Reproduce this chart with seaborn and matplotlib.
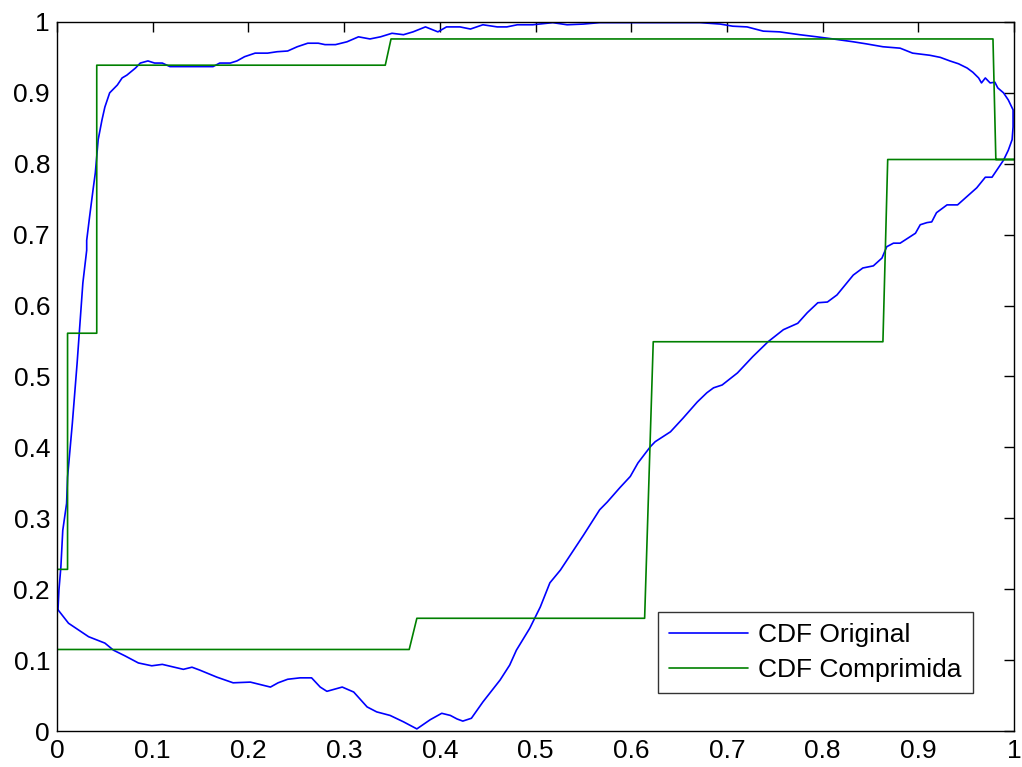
import numpy as np
import pandas as pd
import matplotlib
matplotlib.use("Agg")
import matplotlib.pyplot as plt
import seaborn as sns

# CDF original: closed path, lower branch left->right then upper branch right->left
orig_x = [0.001, 0.012, 0.033, 0.05, 0.059, 0.071, 0.085, 0.099, 0.11, 0.132, 0.141, 0.149,
          0.167, 0.184, 0.202, 0.223, 0.231, 0.241, 0.254, 0.266, 0.275, 0.282, 0.298, 0.31,
          0.324, 0.334, 0.348, 0.362, 0.376, 0.39, 0.402, 0.411, 0.418, 0.424, 0.433, 0.445,
          0.463, 0.473, 0.48, 0.494, 0.505, 0.515, 0.526, 0.55, 0.567, 0.575, 0.588, 0.599,
          0.607, 0.62, 0.625, 0.641, 0.654, 0.669, 0.679, 0.686, 0.695, 0.711, 0.727, 0.743,
          0.759, 0.774, 0.784, 0.795, 0.805, 0.815, 0.832, 0.842, 0.853, 0.862, 0.867, 0.874,
          0.881, 0.897, 0.902, 0.909, 0.914, 0.919, 0.93, 0.941, 0.961, 0.97, 0.977, 0.982,
          0.989, 0.994, 0.998, 0.999, 0.999, 0.994, 0.989, 0.983, 0.98, 0.975, 0.97, 0.966,
          0.963, 0.957, 0.951, 0.942, 0.933, 0.923, 0.912, 0.894, 0.881, 0.863, 0.846, 0.832,
          0.811, 0.794, 0.776, 0.755, 0.738, 0.721, 0.706, 0.693, 0.672, 0.567, 0.55, 0.533,
          0.518, 0.497, 0.481, 0.47, 0.46, 0.445, 0.432, 0.421, 0.407, 0.398, 0.385, 0.372,
          0.362, 0.35, 0.338, 0.327, 0.315, 0.303, 0.291, 0.28, 0.273, 0.262, 0.251, 0.241,
          0.23, 0.22, 0.207, 0.196, 0.188, 0.181, 0.17, 0.163, 0.118, 0.11, 0.102, 0.095,
          0.087, 0.082, 0.073, 0.068, 0.063, 0.055, 0.05, 0.047, 0.043, 0.04, 0.038, 0.034,
          0.031, 0.031, 0.027, 0.024, 0.021, 0.016, 0.011, 0.01, 0.006, 0.004, 0.002, 0.001]
orig_y = [0.171, 0.152, 0.133, 0.124, 0.114, 0.106, 0.096, 0.092, 0.094, 0.087, 0.09, 0.086,
          0.076, 0.068, 0.069, 0.062, 0.068, 0.073, 0.075, 0.075, 0.062, 0.056, 0.062, 0.055,
          0.034, 0.027, 0.022, 0.013, 0.003, 0.016, 0.025, 0.022, 0.017, 0.014, 0.018, 0.041,
          0.072, 0.093, 0.114, 0.145, 0.175, 0.209, 0.227, 0.276, 0.312, 0.323, 0.343, 0.359,
          0.378, 0.401, 0.408, 0.422, 0.441, 0.464, 0.477, 0.484, 0.488, 0.505, 0.528, 0.549,
          0.566, 0.575, 0.59, 0.604, 0.605, 0.615, 0.643, 0.653, 0.656, 0.667, 0.683, 0.688,
          0.688, 0.702, 0.714, 0.717, 0.718, 0.731, 0.742, 0.742, 0.766, 0.781, 0.781, 0.791,
          0.805, 0.819, 0.834, 0.852, 0.876, 0.89, 0.9, 0.907, 0.915, 0.914, 0.921, 0.914,
          0.921, 0.929, 0.935, 0.941, 0.945, 0.95, 0.953, 0.956, 0.963, 0.965, 0.969, 0.972,
          0.976, 0.979, 0.982, 0.986, 0.987, 0.993, 0.994, 0.997, 0.999, 0.999, 0.997, 0.996,
          0.999, 0.996, 0.996, 0.993, 0.993, 0.996, 0.99, 0.993, 0.993, 0.986, 0.993, 0.986,
          0.982, 0.984, 0.979, 0.976, 0.979, 0.972, 0.968, 0.968, 0.97, 0.97, 0.965, 0.959,
          0.958, 0.956, 0.956, 0.951, 0.945, 0.942, 0.942, 0.937, 0.937, 0.942, 0.942, 0.945,
          0.942, 0.935, 0.925, 0.921, 0.911, 0.9, 0.88, 0.862, 0.834, 0.787, 0.767, 0.725,
          0.692, 0.678, 0.632, 0.575, 0.519, 0.434, 0.358, 0.321, 0.283, 0.231, 0.199, 0.171]

# CDF comprimida: step path, same ordering
comp_x = [0.0, 0.368, 0.376, 0.614, 0.623, 0.863, 0.868, 1.0,
          0.981, 0.978, 0.349, 0.343, 0.0415, 0.0415, 0.011, 0.011, 0.0, 0.0]
comp_y = [0.115, 0.115, 0.159, 0.159, 0.549, 0.549, 0.806, 0.806,
          0.806, 0.976, 0.976, 0.939, 0.939, 0.561, 0.561, 0.228, 0.228, 0.115]

labels = ["CDF Original", "CDF Comprimida"]
ticks = [0, 0.1, 0.2, 0.3, 0.4, 0.5, 0.6, 0.7, 0.8, 0.9, 1]

df = pd.concat([
    pd.DataFrame({"x": orig_x, "y": orig_y, "serie": labels[0]}),
    pd.DataFrame({"x": comp_x, "y": comp_y, "serie": labels[1]}),
], ignore_index=True)

sns.set_theme(style="white")
plt.rcParams["font.family"] = ["Liberation Sans", "DejaVu Sans"]
plt.rcParams["text.color"] = "black"

fig = plt.figure(figsize=(10.22, 7.67), dpi=100)
ax = fig.add_axes([0.0558, 0.0469, 0.9364, 0.9245])

sns.lineplot(data=df, x="x", y="y", hue="serie", sort=False, estimator=None,
             palette={labels[0]: "#0000ff", labels[1]: "#008000"},
             linewidth=1.2, ax=ax)

ax.set_xlim(0, 1)
ax.set_ylim(0, 1)
ax.set_xticks(ticks)
ax.set_yticks(ticks)
ax.set_xticklabels([f"{t:g}" for t in ticks])
ax.set_yticklabels([f"{t:g}" for t in ticks])
ax.set_xlabel("")
ax.set_ylabel("")
ax.tick_params(direction="in", length=7, width=1, colors="black", labelsize=19,
               top=True, right=True)
ax.tick_params(axis="y", pad=5)
ax.tick_params(axis="x", pad=6)
for s in ax.spines.values():
    s.set_visible(True)
    s.set_color("black")
    s.set_linewidth(1)

leg = ax.legend(loc="lower right", bbox_to_anchor=(0.957, 0.0536), borderaxespad=0,
                fontsize=19, handlelength=3.0, handletextpad=0.38, labelspacing=0.4,
                borderpad=0.42, fancybox=False, frameon=True)
leg.get_frame().set_edgecolor("black")
leg.get_frame().set_linewidth(1)
for h in leg.get_lines():
    h.set_linewidth(1.2)
for t in leg.get_texts():
    t.set_color("black")

fig.savefig("out.png", dpi=100)
